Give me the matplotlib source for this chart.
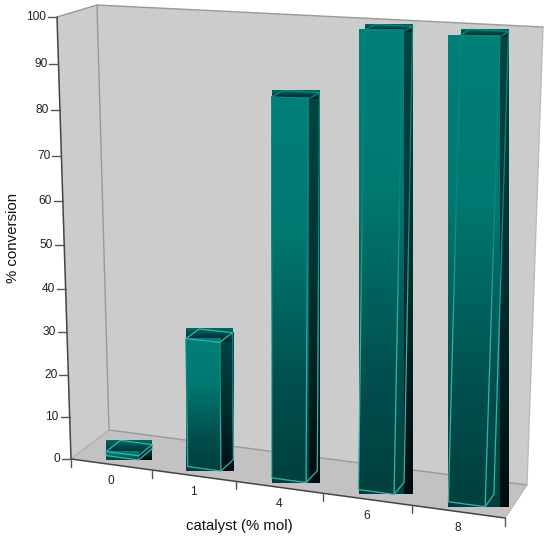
import numpy as np
import matplotlib
matplotlib.use("Agg")
import matplotlib.pyplot as plt
from matplotlib.colors import LinearSegmentedColormap as LSC
from matplotlib.collections import LineCollection
from matplotlib.patches import Polygon

categories = ["0", "1", "4", "6", "8"]
conversion = [1, 30, 85, 100, 100]
y_ticks = [0, 10, 20, 30, 40, 50, 60, 70, 80, 90, 100]
x_label = "catalyst (% mol)"
y_label = "% conversion"

plt.rcParams["font.family"] = ["Liberation Sans", "DejaVu Sans"]
fig = plt.figure(figsize=(5.5, 5.41), dpi=100)
ax = fig.add_axes([0, 0, 1, 1])
ax.set_xlim(0, 550)
ax.set_ylim(541, 0)
ax.axis("off")

# box corners in pixels: (front/back, bottom/top, left/right)
FBL, FBR = np.array([71, 459.]), np.array([505, 518.])
FTL, FTR = np.array([57, 17.]), np.array([522, 42.])
BBL, BBR = np.array([109, 430.]), np.array([527, 485.])
BTL, BTR = np.array([97, 5.]), np.array([543, 27.])
KX, KY = 1.087, 1.066


def proj(u, v, w):
    """category position u (0..5), value v (0..100), depth w (0..1) to pixels"""
    s = u / 5
    s = s / (KX - (KX - 1) * s)
    t = v / 100
    t = t / (KY - (KY - 1) * t)
    fb = FBL + s * (FBR - FBL)
    ft = FTL + s * (FTR - FTL)
    bb = BBL + s * (BBR - BBL)
    bt = BTL + s * (BTR - BTL)
    front = fb + t * (ft - fb)
    back = bb + t * (bt - bb)
    return front + w * (back - front)


def poly(pts, color, z):
    ax.add_patch(Polygon(pts, closed=True, fc=color, ec="none", zorder=z))


def line(pts, color, lw=1.0, z=2):
    p = np.array(pts)
    ax.plot(p[:, 0], p[:, 1], color=color, lw=lw, zorder=z, solid_capstyle="round")


def grad(pts, cmap, z):
    p = np.array(pts)
    x0, x1, y0, y1 = p[:, 0].min(), p[:, 0].max(), p[:, 1].min(), p[:, 1].max()
    ax.imshow(np.linspace(0, 1, 256)[:, None], extent=(x0, x1, y1, y0), cmap=cmap,
              aspect="auto", zorder=z, interpolation="bilinear", vmin=0, vmax=1)


front_cm = LSC.from_list("f", [(0, (0, .50, .47)), (.35, (0, .47, .44)), (.75, (0, .31, .30)), (1, (0, .25, .24))])
side_cm = LSC.from_list("s", [(0, (0, .27, .27)), (.5, (0, .19, .19)), (1, (0, .05, .06))])
top_cm = LSC.from_list("t", [(0, (0, .42, .40)), (.5, (0, .26, .26)), (1, (0, .13, .14))])
EDGE = np.array((.22, .70, .67))
EDGE_TOP = np.array((.05, .52, .49))


def fading_edge(p_top, p_bottom, span, z=8):
    """edge that melts into the teal face near the top of a tall bar"""
    n = 40
    f = np.linspace(0, 1, n + 1)[:, None]
    pts = np.asarray(p_top) + f * (np.asarray(p_bottom) - np.asarray(p_top))
    segs = np.stack([pts[:-1], pts[1:]], axis=1)
    mix = np.clip(((pts[:-1, 1] - p_top[1]) / span - .35) / .3, 0, 1)[:, None]
    cols = EDGE_TOP + mix * (EDGE - EDGE_TOP)
    ax.add_collection(LineCollection(segs, colors=cols, linewidths=.9, zorder=z))


# walls and floor
poly([BTL, BTR, BBR, BBL], "#cccccc", 1)
poly([FTL, BTL, BBL, FBL], "#cccccc", 1)
poly([FBL, BBL, BBR, FBR], "#c2c2c2", 1)
line([FTL, BTL, BTR], "#999999")
line([BTL, BBL, BBR], "#999999")
line([BBL, FBL], "#b0b0b0")
line([BTR, BBR, FBR], "#bbbbbb")
line([FTL, FBL, FBR], "#444444", 1.1, 3)

# value axis
for v in y_ticks:
    p = proj(0, v, 0)
    line([p, p + [-9, 0]], "#555555", 1.0, 3)
    ax.text(p[0] - 11, p[1], str(v), ha="right", va="center", fontsize=8.6, color="#222222")

# category axis
for u in range(len(categories) + 1):
    p = proj(u, 0, 0)
    line([p, p + [0, 8]], "#555555", 1.0, 3)
for u, lab in enumerate(categories):
    p = proj(u + .5, 0, 0)
    ax.text(p[0], p[1] + 16.5, lab, ha="center", va="center", fontsize=8.6, color="#222222")

# bars
F0, F1, W0, W1 = .33, .73, .24, .62
for i, val in enumerate(conversion):
    a, b = i + F0, i + F1
    fbl, fbr, ftl, ftr = proj(a, 0, W0), proj(b, 0, W0), proj(a, val, W0), proj(b, val, W0)
    bbr, btr, btl = proj(b, 0, W1), proj(b, val, W1), proj(a, val, W1)
    grad([ftr, fbr, bbr, btr], side_cm, 5)
    grad([ftl, ftr, btr, btl], top_cm, 6)
    grad([fbl, fbr, ftr, ftl], front_cm, 7)
    span = fbl[1] - ftl[1]
    line([fbl, fbr], EDGE, .9, 8)
    fading_edge(ftl, fbl, span)
    fading_edge(ftr, fbr, span)
    fading_edge(btr, bbr, span)
    line([fbr, bbr], EDGE, .9, 8)
    top_col = EDGE if val < 50 else EDGE_TOP
    line([ftl, ftr], top_col, .9, 8)
    line([ftl, btl, btr, ftr], top_col, .9, 8)

ax.set_xlim(0, 550)
ax.set_ylim(541, 0)
ax.text(239, 526, x_label, ha="center", va="center", fontsize=10.8, color="#111111")
ax.text(13, 238, y_label, ha="center", va="center", rotation=90, fontsize=10.8, color="#111111")

fig.savefig("out.png", dpi=100, facecolor="white")
